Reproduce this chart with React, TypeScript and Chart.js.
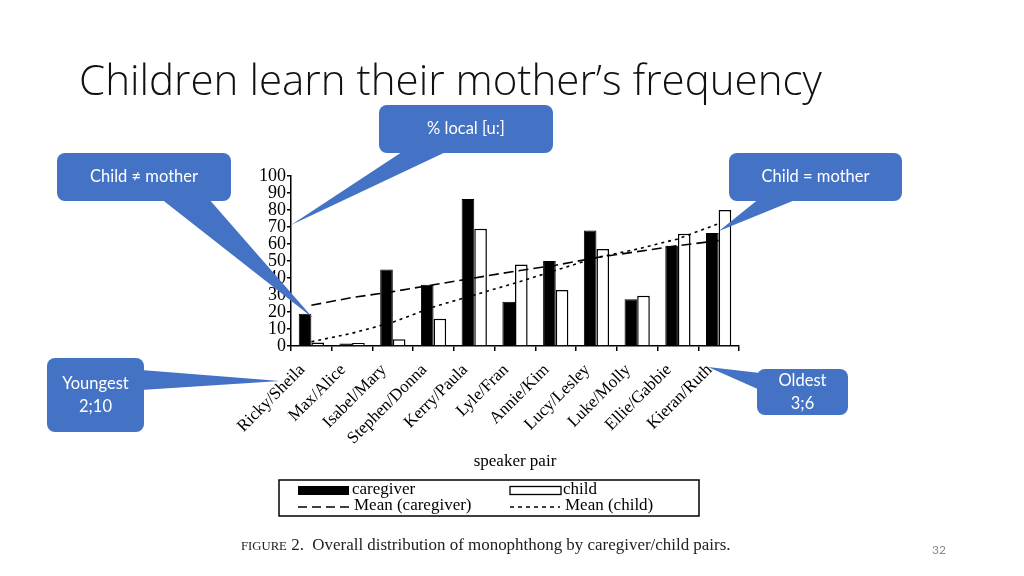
import React, { useEffect, useRef } from "react";
import { Chart, registerables } from "chart.js";

Chart.register(...registerables);

const categories = [
  "Ricky/Sheila",
  "Max/Alice",
  "Isabel/Mary",
  "Stephen/Donna",
  "Kerry/Paula",
  "Lyle/Fran",
  "Annie/Kim",
  "Lucy/Lesley",
  "Luke/Molly",
  "Ellie/Gabbie",
  "Kieran/Ruth",
];
const caregiverValues = [19, 1.5, 45, 36, 86.5, 26, 50, 68, 27.5, 59, 66.5];
const childValues = [2, 1.8, 4, 16, 69, 48, 33, 57, 29.5, 66, 80];
const meanCaregiverValues = [24, 28.5, 32, 36, 40, 44, 47.5, 52, 55.5, 59, 62];
const meanChildValues = [2.5, 7.5, 14, 23, 30, 37, 44.5, 52, 57, 63, 72];
const yMin = 0;
const yMax = 100;
const yStep = 10;

const SERIF = '"Liberation Serif", "Times New Roman", serif';
const SANS = 'Lato, "Open Sans", sans-serif';
const TITLE_SANS = '"Open Sans", Lato, sans-serif';
const BLUE = "#4472C4";

function fitSize(ctx: CanvasRenderingContext2D, text: string, weight: string, family: string, target: number) {
  ctx.font = `${weight} 40px ${family}`;
  const w = ctx.measureText(text).width;
  return (40 * target) / w;
}

function callout(
  ctx: CanvasRenderingContext2D,
  x: number,
  y: number,
  w: number,
  h: number,
  tail: [number, number][],
  lines: string[],
  lineGap: number
) {
  ctx.save();
  ctx.fillStyle = BLUE;
  ctx.beginPath();
  (ctx as any).roundRect(x, y, w, h, 8);
  ctx.fill();
  ctx.beginPath();
  ctx.moveTo(tail[0][0], tail[0][1]);
  for (let i = 1; i < tail.length; i++) ctx.lineTo(tail[i][0], tail[i][1]);
  ctx.closePath();
  ctx.fill();
  ctx.fillStyle = "#ffffff";
  ctx.font = `400 16.5px ${SANS}`;
  ctx.textAlign = "center";
  ctx.textBaseline = "middle";
  const cx = x + w / 2;
  const cy = y + h / 2;
  const start = cy - ((lines.length - 1) * lineGap) / 2;
  lines.forEach((t, i) => ctx.fillText(t, cx, start + i * lineGap));
  ctx.restore();
}

const overlayPlugin = {
  id: "overlay",
  beforeDraw(chart: any) {
    const ctx: CanvasRenderingContext2D = chart.ctx;
    ctx.save();
    ctx.fillStyle = "#ffffff";
    ctx.fillRect(0, 0, chart.width, chart.height);
    ctx.restore();
  },
  afterDraw(chart: any) {
    const ctx: CanvasRenderingContext2D = chart.ctx;
    ctx.save();

    // Slide title
    const title = "Children learn their mother\u2019s frequency";
    const ts = fitSize(ctx, title, "300", TITLE_SANS, 743);
    ctx.font = `300 ${ts}px ${TITLE_SANS}`;
    ctx.fillStyle = "#111111";
    ctx.textAlign = "left";
    ctx.textBaseline = "alphabetic";
    ctx.fillText(title, 79, 95);

    // Legend box
    ctx.strokeStyle = "#000";
    ctx.lineWidth = 1.5;
    ctx.strokeRect(279, 480, 420, 36);
    ctx.fillStyle = "#000";
    ctx.fillRect(298, 486, 51, 9);
    ctx.lineWidth = 1.3;
    ctx.strokeRect(510, 486.5, 51, 8);
    ctx.setLineDash([9, 5]);
    ctx.beginPath();
    ctx.moveTo(298, 507);
    ctx.lineTo(352, 507);
    ctx.stroke();
    ctx.setLineDash([4, 4]);
    ctx.beginPath();
    ctx.moveTo(510, 507);
    ctx.lineTo(560, 507);
    ctx.stroke();
    ctx.setLineDash([]);
    ctx.font = `17px ${SERIF}`;
    ctx.textBaseline = "middle";
    ctx.fillStyle = "#000";
    ctx.fillText("caregiver", 352, 490);
    ctx.fillText("child", 563, 490);
    ctx.fillText("Mean (caregiver)", 354, 506);
    ctx.fillText("Mean (child)", 565, 506);

    // Caption
    const capMain = " 2.  Overall distribution of monophthong by caregiver/child pairs.";
    const capSc = "FIGURE";
    ctx.font = `16px ${SERIF}`;
    const wMain = ctx.measureText(capMain).width;
    ctx.font = `12px ${SERIF}`;
    const wSc = ctx.measureText(capSc).width;
    const k = 490 / (wMain + wSc);
    ctx.textBaseline = "alphabetic";
    ctx.fillStyle = "#222";
    ctx.font = `${12 * k}px ${SERIF}`;
    ctx.fillText(capSc, 241, 550);
    ctx.font = `${16 * k}px ${SERIF}`;
    ctx.fillText(capMain, 241 + wSc * k, 550);

    // Page number
    ctx.font = `12px ${SANS}`;
    ctx.fillStyle = "#8a8a8a";
    ctx.fillText("32", 932, 554);

    ctx.restore();

    // Callouts
    callout(ctx, 379, 105, 174, 48, [[405, 150], [450, 150], [291, 225]], ["% local [u:]"], 0);
    callout(ctx, 57, 153, 174, 48, [[160, 198], [208, 198], [313, 318]], ["Child \u2260 mother"], 0);
    callout(ctx, 729, 153, 173, 48, [[760, 198], [800, 198], [719, 231]], ["Child = mother"], 0);
    callout(ctx, 757, 369, 91, 46, [[760, 373], [760, 390], [708, 367]], ["Oldest", "3;6"], 23);
    callout(ctx, 47, 358, 97, 74, [[141, 370], [141, 390], [280, 381]], ["Youngest", "2;10"], 23);
  },
};

export default function App() {
  const ref = useRef<HTMLCanvasElement>(null);
  useEffect(() => {
    const canvas = ref.current;
    if (!canvas) return;
    const chart = new Chart(canvas, {
      type: "bar",
      data: {
        labels: categories,
        datasets: [
          {
            type: "line",
            label: "Mean (caregiver)",
            data: meanCaregiverValues,
            borderColor: "#000",
            borderWidth: 1.6,
            borderDash: [10, 5],
            pointRadius: 0,
            fill: false,
            tension: 0,
            order: 0,
          } as any,
          {
            type: "line",
            label: "Mean (child)",
            data: meanChildValues,
            borderColor: "#000",
            borderWidth: 1.6,
            borderDash: [3, 4],
            pointRadius: 0,
            fill: false,
            tension: 0,
            order: 0,
          } as any,
          {
            label: "caregiver",
            data: caregiverValues,
            backgroundColor: "#000",
            borderColor: "#000",
            borderWidth: 1,
            categoryPercentage: 0.62,
            barPercentage: 1,
            order: 1,
          },
          {
            label: "child",
            data: childValues,
            backgroundColor: "#fff",
            borderColor: "#000",
            borderWidth: 1.5,
            categoryPercentage: 0.62,
            barPercentage: 1,
            order: 1,
          },
        ],
      },
      options: {
        responsive: false,
        devicePixelRatio: 1,
        animation: false,
        layout: { padding: { left: 251, right: 285, top: 176, bottom: 104 } },
        plugins: {
          legend: { display: false },
          tooltip: { enabled: false },
          title: { display: false },
        },
        scales: {
          x: {
            offset: true,
            grid: {
              offset: true,
              drawOnChartArea: false,
              drawTicks: true,
              tickLength: 5,
              color: "#000",
              lineWidth: 1.5,
            },
            border: { color: "#000", width: 1.5 },
            ticks: {
              color: "#000",
              font: { family: SERIF, size: 17 },
              minRotation: 45,
              maxRotation: 45,
              autoSkip: false,
              padding: 9,
              labelOffset: -9,
            },
            title: {
              display: true,
              text: "speaker pair",
              color: "#000",
              font: { family: SERIF, size: 17 },
              padding: 0,
            },
            afterFit: (scale: any) => {
              scale.height = 126;
            },
          },
          y: {
            min: yMin,
            max: yMax,
            grid: {
              drawOnChartArea: false,
              drawTicks: true,
              tickLength: 4,
              color: "#000",
              lineWidth: 1.5,
            },
            border: { color: "#000", width: 1.5 },
            ticks: {
              stepSize: yStep,
              autoSkip: false,
              color: "#000",
              font: { family: SERIF, size: 18 },
              padding: 1,
            },
            afterFit: (scale: any) => {
              scale.width = 40;
            },
          },
        },
      },
      plugins: [overlayPlugin],
    });
    return () => chart.destroy();
  }, []);
  return (
    <div style={{ position: "absolute", left: 0, top: 0, width: 1024, height: 576, background: "#fff" }}>
      <canvas ref={ref} width={1024} height={576} style={{ display: "block", width: 1024, height: 576 }} />
    </div>
  );
}
